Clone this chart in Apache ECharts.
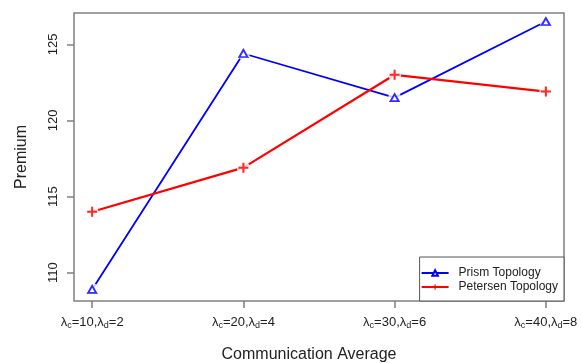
<!DOCTYPE html>
<html>
<head>
<meta charset="utf-8">
<script src="https://cdn.jsdelivr.net/npm/echarts@6/dist/echarts.min.js"></script>
<style>
  html, body { margin: 0; padding: 0; background: #fff; }
  #chart { width: 582px; height: 363px; }
</style>
</head>
<body>
<div id="chart"></div>
<script>
// Communication rate settings (lambda_c, lambda_d) per x position
const lambdaC = [10, 20, 30, 40];
const lambdaD = [2, 4, 6, 8];
const xTicks = [1, 2, 3, 4];
const yTicks = [110, 115, 120, 125];

// Premium per topology
const prismPremium = [108.9, 124.4, 121.5, 126.5];
const petersenPremium = [114.0, 116.9, 123.0, 121.9];

const FONT = 'Liberation Sans, Arial, sans-serif';
const BLUE = '#0000ff';
const RED = '#ff0000';
const FRAME = '#808080';
const PLUS = 'path://M4,0H6V4H10V6H6V10H4V6H0V4H4Z';

const pts = vals => vals.map((v, i) => [xTicks[i], v]);

const chart = echarts.init(document.getElementById('chart'), null, { renderer: 'canvas' });

chart.setOption({
  animation: false,
  backgroundColor: '#fff',
  textStyle: { fontFamily: FONT },
  grid: {
    left: 74, top: 13, right: 18, bottom: 62,
    containLabel: false,
    outerBoundsMode: 'none',
    show: true, borderColor: FRAME, borderWidth: 1.5, backgroundColor: 'transparent'
  },
  legend: {
    data: ['Prism Topology', 'Petersen Topology'],
    orient: 'vertical',
    right: 18, bottom: 62,
    itemWidth: 27, itemHeight: 7, itemGap: 2,
    padding: [10, 6, 8, 1],
    borderColor: '#555', borderWidth: 1, backgroundColor: '#fff',
    textStyle: { fontFamily: FONT, fontSize: 12, color: '#222', padding: [0, 0, 0, 5] }
  },
  xAxis: {
    type: 'value',
    min: 0.88, max: 4.12,
    name: 'Communication Average',
    nameLocation: 'middle',
    nameGap: 46,
    nameTextStyle: { fontFamily: FONT, fontSize: 16, color: '#222', padding: [0, 20, 0, 0] },
    axisLine: { show: false },
    splitLine: { show: false },
    axisTick: { show: true, customValues: xTicks, length: 7, lineStyle: { color: FRAME, width: 1.5 } },
    axisLabel: {
      customValues: xTicks,
      margin: 13,
      formatter: v => {
        const i = xTicks.indexOf(Math.round(v));
        if (i < 0) return '';
        return '{l|λ}{s|c}{n|=' + lambdaC[i] + ',}{l|λ}{s|d}{n|=' + lambdaD[i] + '}';
      },
      rich: {
        l: { fontFamily: FONT, fontSize: 13, color: '#222', lineHeight: 16, verticalAlign: 'middle' },
        n: { fontFamily: FONT, fontSize: 13, color: '#222', lineHeight: 16, verticalAlign: 'middle' },
        s: { fontFamily: FONT, fontSize: 9, color: '#222', lineHeight: 16, verticalAlign: 'bottom', padding: [6, 0, 0, 0] }
      }
    }
  },
  yAxis: {
    type: 'value',
    min: 108.14, max: 127.06,
    name: 'Premium',
    nameLocation: 'middle',
    nameRotate: 90,
    nameGap: 44,
    nameTextStyle: { fontFamily: FONT, fontSize: 16, color: '#222' },
    axisLine: { show: false },
    splitLine: { show: false },
    axisTick: { show: true, customValues: yTicks, length: 7, lineStyle: { color: FRAME, width: 1.5 } },
    axisLabel: {
      customValues: yTicks,
      rotate: 90,
      margin: 14,
      fontFamily: FONT, fontSize: 13, color: '#222'
    }
  },
  series: [
    {
      name: 'Prism Topology', type: 'line', data: pts(prismPremium), z: 2,
      symbol: 'triangle', symbolSize: [8, 7],
      lineStyle: { color: BLUE, width: 1.8 },
      itemStyle: { color: '#fff', borderColor: BLUE, borderWidth: 1.8 }
    },
    {
      name: 'Petersen Topology', type: 'line', data: pts(petersenPremium), z: 2,
      symbol: PLUS, symbolSize: 10,
      lineStyle: { color: RED, width: 2.2 },
      itemStyle: { color: RED, borderWidth: 0 }
    },
    // white clearing around each point so lines stop short of markers
    {
      name: 'gapPrism', type: 'scatter', data: pts(prismPremium), z: 3,
      symbol: 'circle', symbolSize: 13, itemStyle: { color: '#fff' }, silent: true
    },
    {
      name: 'gapPetersen', type: 'scatter', data: pts(petersenPremium), z: 3,
      symbol: 'circle', symbolSize: 13, itemStyle: { color: '#fff' }, silent: true
    },
    {
      name: 'markPrism', type: 'scatter', data: pts(prismPremium), z: 4,
      symbol: 'triangle', symbolSize: [8, 7],
      itemStyle: { color: '#fff', borderColor: BLUE, borderWidth: 1.8 }, silent: true
    },
    {
      name: 'markPetersen', type: 'scatter', data: pts(petersenPremium), z: 4,
      symbol: PLUS, symbolSize: 10,
      itemStyle: { color: RED }, silent: true
    }
  ]
});
</script>
</body>
</html>
